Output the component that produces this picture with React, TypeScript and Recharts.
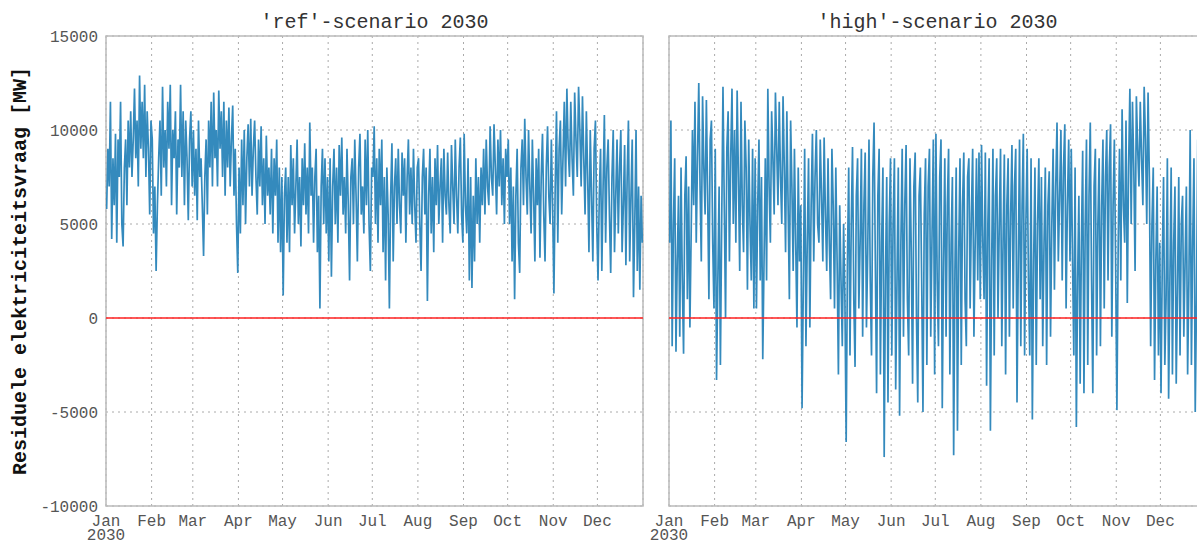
import React from "react";
import { LineChart, Line, XAxis, YAxis, CartesianGrid, ReferenceLine, ReferenceArea } from "recharts";

const monthLabels = ["Jan", "Feb", "Mar", "Apr", "May", "Jun", "Jul", "Aug", "Sep", "Oct", "Nov", "Dec"];
const monthStarts = [0, 31, 59, 90, 120, 151, 181, 212, 243, 273, 304, 334];
const monthLengths = [31, 28, 31, 30, 31, 30, 31, 31, 30, 31, 30, 31];
const yTicks = [-10000, -5000, 0, 5000, 10000, 15000];

// 'ref'-scenario values read per month (MW)
const refJan = [5800, 9000, 7000, 11500, 4200, 8500, 6000, 9800, 4000, 9500, 7500, 11500, 5000, 3800, 8000, 9500, 6000, 10500, 8000, 11000, 7500, 9500, 12200, 8500, 10500, 7000, 12900, 9000, 11500, 8500, 12400, 7500, 11000, 9000, 5500, 10500];
const refFeb = [9500, 4500, 7000, 2500, 6000, 8500, 10500, 6500, 12300, 8000, 10000, 7000, 11500, 9000, 12400, 6000, 10000, 8500, 11000, 5500, 9500, 8000, 12400, 7500, 11000, 6000, 10500, 8500, 5200, 9500, 11000, 7000];
const refMar = [10000, 6500, 9000, 5200, 10500, 7500, 8500, 6000, 3300, 7500, 9500, 5500, 10500, 8000, 11500, 7000, 12000, 8500, 10000, 7000, 12100, 9000, 11000, 7500, 11500, 6500, 10500, 8000, 11200, 7000, 9500, 11300, 6500, 9000, 5000, 2400];
const refApr = [8000, 4500, 9500, 6000, 10000, 5000, 8500, 10300, 7000, 10600, 6500, 9000, 10500, 7500, 5500, 9500, 7000, 10200, 6000, 8500, 5000, 9700, 6500, 8000, 5500, 9000, 4500, 8500, 6500, 9500, 4000, 8000, 3500, 7500];
const refMay = [1200, 6500, 8000, 4000, 7500, 3500, 9200, 6000, 8500, 4500, 7000, 9500, 5000, 7500, 3800, 8500, 6000, 9300, 5500, 8000, 4500, 10400, 6500, 8000, 4000, 7500, 9000, 3500, 6500, 500, 7000, 9000, 5000, 8500, 4500, 7500];
const refJun = [3000, 8500, 2200, 7000, 9000, 5000, 8000, 4000, 9200, 6500, 9600, 5500, 7500, 4500, 9000, 6000, 2000, 7500, 8500, 5000, 9500, 6500, 3000, 8000, 9800, 5500, 7000, 4500, 9500, 6000, 10000, 5000, 2500, 8000];
const refJul = [7500, 10200, 5000, 8500, 4000, 9000, 6000, 9500, 3500, 7500, 2000, 8000, 5500, 500, 6500, 9300, 3000, 7000, 8500, 5000, 9000, 6000, 4500, 8800, 6500, 8500, 4000, 7500, 9500, 5500, 8000, 5000, 9000, 6000, 4000, 8000];
const refAug = [8500, 5000, 2500, 7500, 9000, 5500, 8000, 900, 6500, 9000, 4500, 7500, 3500, 8500, 6000, 9200, 5000, 7000, 8500, 4000, 9000, 6500, 5500, 8800, 6000, 4500, 9200, 7000, 5000, 9500, 6500, 4500, 8000, 9600, 5500, 4000];
const refSep = [9800, 6000, 4500, 8500, 2000, 7500, 1600, 6500, 3000, 8500, 5000, 7500, 4000, 8000, 6000, 9000, 5500, 9500, 7000, 6000, 10200, 7500, 6500, 10300, 8000, 5500, 9500, 7000, 10000, 6000, 8500, 5000, 9000, 7500];
const refOct = [9500, 5000, 8000, 3000, 7000, 1000, 6500, 9000, 4000, 2400, 8000, 9500, 6000, 10600, 7500, 5500, 10000, 7000, 4500, 9500, 6500, 3000, 8500, 6000, 9000, 3200, 7500, 9800, 5500, 3000, 8000, 10200, 6500, 5000, 9500, 6000];
const refNov = [1300, 7000, 11000, 4000, 9000, 10500, 5500, 8500, 11500, 7000, 12200, 9000, 7500, 11500, 8500, 6500, 12000, 9500, 7500, 12300, 10000, 7000, 11800, 8500, 5500, 11000, 7500, 3500, 10000, 6500, 3000, 9000, 10500, 5000];
const refDec = [2000, 6500, 9000, 2500, 7000, 10800, 4000, 8000, 9500, 5500, 2400, 7500, 10000, 3500, 6500, 9500, 4500, 8000, 10000, 3500, 6000, 9200, 2800, 7500, 10500, 3000, 6500, 9500, 1100, 5000, 10000, 2500, 7000, 1500, 6500, 4000];

// 'high'-scenario values read per month (MW)
const highJan = [4000, 10500, -1500, 5000, 8500, -1800, 3000, 6500, -1000, 8000, 2000, -1900, 6500, 8600, 1000, 7000, -500, 4500, 10000, 6000, 11500, 4000, 8500, 12500, 7000, 3000, 11800, 8000, 5500, 11600, 6500, 1000, 9500, 10500, 4000, 500];
const highFeb = [9000, -3300, 2000, 7000, -2500, 5000, 12300, 6000, 0, 9000, 11000, 3000, 8500, 12200, 5000, 10000, 4000, 12100, 7500, 2500, 11500, 6000, 3500, 10500, 8000, 1500, 9500, 5000, 2000, 9000, 500, 8500];
const highMar = [500, 6000, 9500, 2000, 7500, -2200, 3000, 8500, 2000, 12200, 7000, 4000, 11000, 8500, 5500, 12000, 9000, 6000, 11500, 7500, 5000, 11800, 8000, 3500, 11000, 6000, 1000, 10500, 7000, 2500, 9000, 4000, -500, 8000, 3000, 6000];
const highApr = [-4800, 2000, 9000, -1500, 4000, 8500, -500, 6000, 9800, 3000, 7500, 10000, 5000, 4000, 9500, 6500, 3000, 9600, 5500, 2500, 8500, 4000, 1000, 9000, 6000, 500, 8000, 3000, -3000, 6000, 2000, -1500, 5000, 1000];
const highMay = [-6600, 3000, 8000, -2000, 5000, 9100, 1000, -2600, 6500, 8500, 500, 4000, 9000, -1000, 6000, 8800, -500, 3500, 9500, 2000, -2000, 7500, 10400, 3000, -4000, 6500, 9000, -3000, 4000, 8000, -7400, 2000, 7500, -4500, 5000, 8500];
const highJun = [-2000, 5000, 8500, -3800, 2000, 8000, -5200, 4000, 9000, -1000, 6000, 9200, 1000, -2000, 8500, 3500, -3500, 7000, 8800, 0, -4500, 6500, 8000, 2000, -5000, 5500, 8500, -2500, 7000, 9000, -1000, 4500, 9500, -3000];
const highJul = [9800, 2000, -1500, 7500, 9500, -4800, 3000, 8500, -1000, 6000, 9000, -3000, 4000, 7500, -7300, 2500, 8000, -6000, 3500, 8500, -2500, 6000, 8800, 1000, -1500, 7500, 8500, 500, 5500, 9000, -1000, 4000, 8500, 2000, 8800, 1000];
const highAug = [9200, 4000, 1000, 8800, -3600, 5000, 8500, -6000, 3000, 9000, -2000, 6500, 8500, 0, 5000, 9000, -1500, 4000, 8700, -3000, 6000, 8500, -1000, 5500, 9200, 500, 7000, 9000, -4500, 3000, 9500, -1500, 6000, 9800, -2000, 5000];
const highSep = [9000, 2000, -2000, 8500, -5400, 3000, 8000, -2500, 5000, 8500, 1000, 7500, -1500, 4000, 8000, -2500, 6000, 7800, -1000, 5000, 9000, 1500, 7000, 10400, 3000, 6500, 10000, 2000, 8000, 10300, 500, 6000, 9500, 3000];
const highOct = [9000, 3000, -2000, 8000, -5800, 2000, 6500, -3500, 4000, 8900, -4000, 5000, 9500, -2500, 6500, 10400, 2000, -4000, 7000, 9000, -2000, 5000, 8500, -1500, 6000, 9500, 500, 7500, 10000, 2000, 8000, 10300, -1000, 6000, 9500, 3000];
const highNov = [-4900, 4000, 9000, 2000, 11100, 6000, 4000, 10500, 800, 8000, 12200, 5000, 11500, 8000, 2500, 11800, 9000, 7000, 11500, 8500, 6000, 12300, 9500, 5000, 12000, 7500, -1500, 5000, 8000, -3300, 3000, 7000, -2000, 4000];
const highDec = [-4000, 3000, 7500, -2500, 1000, 8500, -4300, 2000, 8000, -3000, 4000, 7000, -3500, 1500, 7500, -2000, 5000, 6500, -1000, 3000, 7000, -3000, 2000, 10000, -2500, 4000, 8500, -5000, 1000, 9500, -1500, 3000, 6000, 500, 5000, 2000];

const refMonths = [refJan, refFeb, refMar, refApr, refMay, refJun, refJul, refAug, refSep, refOct, refNov, refDec];
const highMonths = [highJan, highFeb, highMar, highApr, highMay, highJun, highJul, highAug, highSep, highOct, highNov, highDec];

function buildSeries(months: number[][]) {
  const out: { day: number; value: number }[] = [];
  months.forEach((vals, m) => {
    const step = monthLengths[m] / vals.length;
    vals.forEach((v, i) => {
      out.push({ day: monthStarts[m] + (i + 0.5) * step, value: v });
    });
  });
  return out;
}

const refData = buildSeries(refMonths);
const highData = buildSeries(highMonths);

const MONO = "'Liberation Mono', 'Courier New', monospace";
const BLUE = "#348ABD";

const XTick = (props: any) => {
  const { x, y, payload } = props;
  const i = monthStarts.indexOf(payload.value);
  return (
    <text x={x} y={y} textAnchor="middle" fontFamily={MONO} fontSize={16} fill="#555">
      <tspan x={x} dy={12}>{monthLabels[i]}</tspan>
      {i === 0 ? <tspan x={x} dy={14}>2030</tspan> : null}
    </text>
  );
};

function Panel({ data, title, left, width, marginLeft, showY }: any) {
  return (
    <div style={{ position: "absolute", left, top: 0 }}>
      <LineChart width={width} height={541} data={data} margin={{ top: 36, right: 4, bottom: 5, left: marginLeft }}>
        <CartesianGrid stroke="#aaa" strokeDasharray="2 4" strokeWidth={1} />
        <XAxis
          dataKey="day"
          type="number"
          domain={[0, 365]}
          ticks={monthStarts}
          tick={<XTick />}
          tickLine={false}
          axisLine={false}
          interval={0}
          height={30}
          allowDataOverflow
        />
        <YAxis
          type="number"
          domain={[-10000, 15000]}
          ticks={yTicks}
          hide={!showY}
          width={106}
          tickLine={false}
          axisLine={false}
          interval={0}
          tick={{ fontFamily: MONO, fontSize: 16, fill: "#555" }}
          allowDataOverflow
        />
        <ReferenceArea x1={0} x2={365} y1={-10000} y2={15000} fill="none" fillOpacity={0} stroke="#bbb" strokeWidth={1.5} />
        <Line
          type="linear"
          dataKey="value"
          stroke={BLUE}
          strokeWidth={1.7}
          dot={false}
          activeDot={false}
          isAnimationActive={false}
        />
        <ReferenceLine y={0} stroke="#ff2020" strokeWidth={1.5} />
      </LineChart>
      <div
        style={{
          position: "absolute",
          top: 11,
          left: marginLeft + (showY ? 106 : 0),
          width: width - marginLeft - (showY ? 106 : 0) - 4,
          textAlign: "center",
          fontFamily: MONO,
          fontSize: 20,
          color: "#333",
          whiteSpace: "pre",
        }}
      >
        {title}
      </div>
    </div>
  );
}

export default function App() {
  return (
    <div style={{ position: "absolute", left: 0, top: 0, width: 1197, height: 541, overflow: "hidden", background: "#fff" }}>
      <Panel data={refData} title="'ref'-scenario 2030" left={0} width={647} marginLeft={0} showY={true} />
      <Panel data={highData} title="'high'-scenario 2030" left={650} width={560} marginLeft={19} showY={false} />
      <div
        style={{
          position: "absolute",
          left: 20,
          top: 271,
          transform: "translate(-50%, -50%) rotate(-90deg)",
          fontFamily: MONO,
          fontSize: 20,
          fontWeight: "bold",
          color: "#111",
          whiteSpace: "pre",
        }}
      >
        Residuele elektriciteitsvraag [MW]
      </div>
    </div>
  );
}
